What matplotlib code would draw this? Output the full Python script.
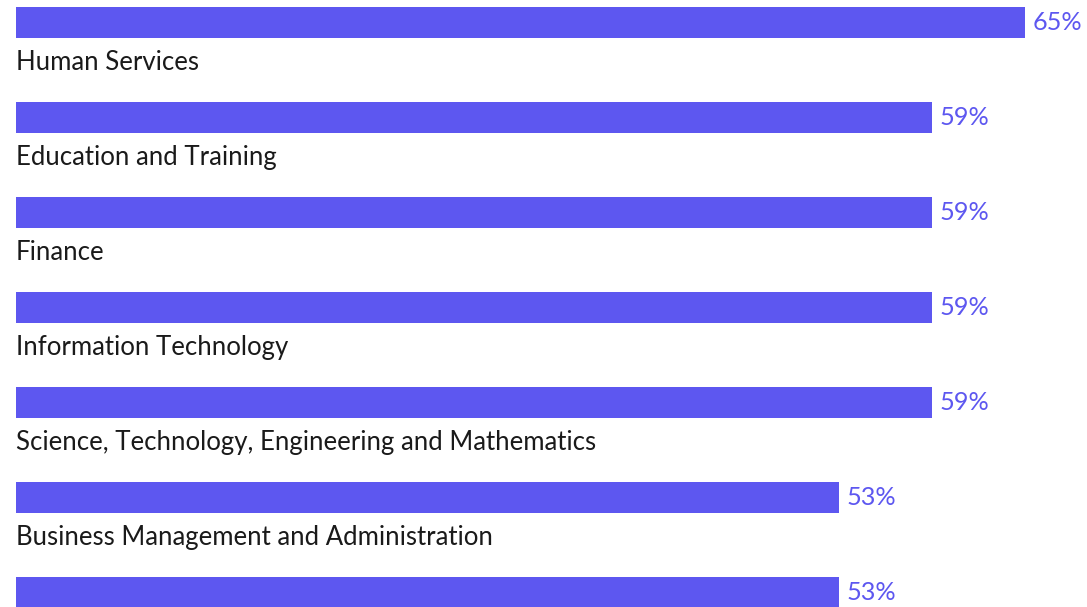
import matplotlib
matplotlib.use("Agg")
import matplotlib.pyplot as plt

categories = [
    "Human Services",
    "Education and Training",
    "Finance",
    "Information Technology",
    "Science, Technology, Engineering and Mathematics",
    "Business Management and Administration",
    "",
]
values = [65, 59, 59, 59, 59, 53, 53]
value_labels = ["65%", "59%", "59%", "59%", "59%", "53%", "53%"]

BAR_COLOR = "#5d57f0"
TEXT_COLOR = "#1a1a1a"

fig = plt.figure(figsize=(10.87, 6.07), dpi=100)
ax = fig.add_axes([0, 0, 1, 1])

px_per_unit = 1009 / 65.0
ax.set_xlim(-16 / px_per_unit, (1087 - 16) / px_per_unit)
ax.set_ylim((607 - 22.5) / 95.0, -22.5 / 95.0)

ypos = list(range(len(categories)))
ax.barh(ypos, values, height=31 / 95.0, color=BAR_COLOR, edgecolor="none")

for y, v, lab, cat in zip(ypos, values, value_labels, categories):
    ax.text(v + 8 / px_per_unit, y, lab, va="center", ha="left",
            fontsize=18.2, color=BAR_COLOR, family="Lato")
    ax.text(0, y + 40 / 95.0, cat, va="center", ha="left",
            fontsize=18.5, color=TEXT_COLOR, family="Lato")

ax.axis("off")
fig.savefig("out.png", dpi=100)
